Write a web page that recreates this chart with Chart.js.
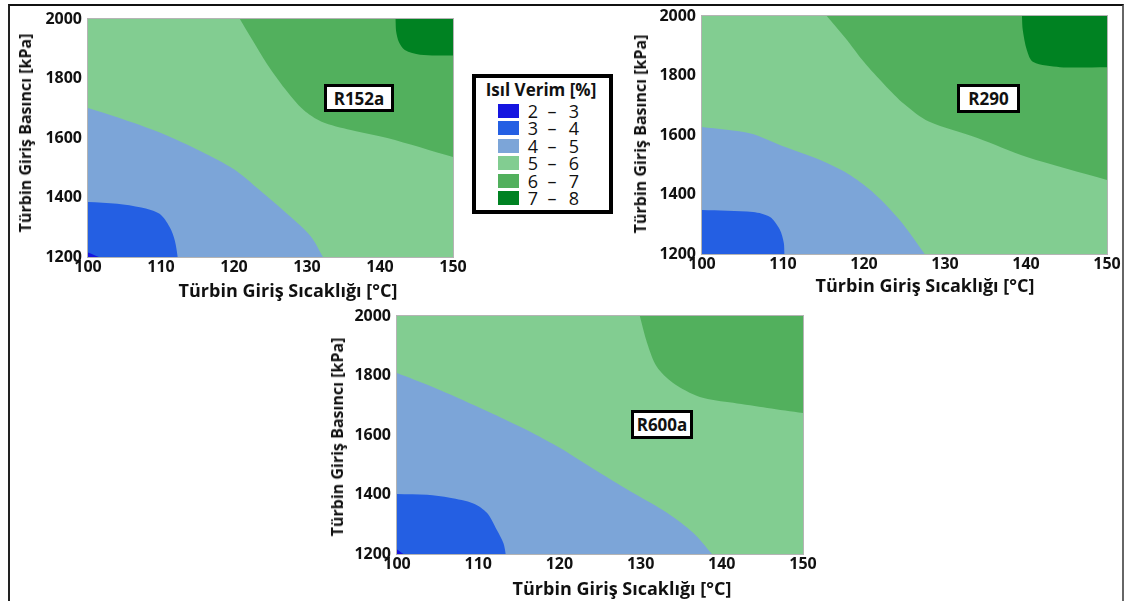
<!DOCTYPE html>
<html>
<head>
<meta charset="utf-8">
<script src="https://cdn.jsdelivr.net/npm/chart.js@4.4.1/dist/chart.umd.min.js"></script>
<style>
  body { margin: 0; background: #fff; font-family: "Open Sans", sans-serif; color: #111; }
  #page { position: relative; width: 1126px; height: 601px; overflow: hidden; }
  #frame { position: absolute; left: 8px; top: 4px; width: 1112px; height: 640px;
           border-left: 2px solid #222; border-top: 2px solid #111; border-right: 2px solid #666; }
  canvas { position: absolute; }
  .xt { position: absolute; font-weight: 700; font-size: 18px; white-space: nowrap; transform: translate(-50%, -50%); }
  .yt { position: absolute; font-weight: 700; font-size: 16px; white-space: nowrap; transform: translate(-50%, -50%) rotate(-90deg); }
  .tag { position: absolute; box-sizing: border-box; border: 3px solid #000; background: #fff;
         font-weight: 700; font-size: 17px; display: flex; align-items: center; justify-content: center; }
  #legend { position: absolute; left: 472px; top: 74px; width: 141px; height: 140px; box-sizing: border-box;
            border: 4px solid #000; background: #fff; }
  .lt { position: absolute; font-weight: 700; font-size: 17px; white-space: nowrap; transform: translate(-50%, -50%); }
  .sw { position: absolute; width: 21px; height: 14px; }
  .ln { position: absolute; font-size: 18px; transform: translate(-50%, -50%); }
</style>
</head>
<body>
<div id="page">
  <div id="frame"></div>
  <canvas id="c1" width="470" height="305" style="left:0px;top:0px"></canvas>
  <canvas id="c2" width="510" height="300" style="left:614px;top:0px"></canvas>
  <canvas id="c3" width="512" height="300" style="left:309px;top:300px"></canvas>

  <div class="xt" style="left:288px;top:290px">Türbin Giriş Sıcaklığı [°C]</div>
  <div class="yt" style="left:25px;top:133px">Türbin Giriş Basıncı [kPa]</div>
  <div class="xt" style="left:925px;top:285px">Türbin Giriş Sıcaklığı [°C]</div>
  <div class="yt" style="left:640px;top:134px">Türbin Giriş Basıncı [kPa]</div>
  <div class="xt" style="left:622px;top:588px">Türbin Giriş Sıcaklığı [°C]</div>
  <div class="yt" style="left:337px;top:437px">Türbin Giriş Basıncı [kPa]</div>

  <div class="tag" style="left:324px;top:84px;width:70px;height:28px">R152a</div>
  <div class="tag" style="left:957px;top:84px;width:63px;height:29px">R290</div>
  <div class="tag" style="left:631px;top:410px;width:62px;height:29px">R600a</div>

  <div id="legend"></div>
  <div class="lt" style="left:541px;top:89px">Isıl Verim [%]</div>
  <div id="legendRows"></div>
</div>

<script>
// axes
const tempTicks = [100, 110, 120, 130, 140, 150];
const pressTicks = [1200, 1400, 1600, 1800, 2000];

// legend bands
const bandLow = [2, 3, 4, 5, 6, 7];
const bandHigh = [3, 4, 5, 6, 7, 8];
const bandColors = ["#1515e0", "#245fe3", "#7ca5d8", "#82cd91", "#52b05d", "#008222"];

// contour boundaries [temperature, pressure]
// R152a
const r152a_23 = [[100, 1215], [101.5, 1200]];
const r152a_34 = [[100, 1385], [104, 1379], [107.3, 1366], [109.8, 1345], [111.2, 1300], [111.9, 1255], [112.3, 1200]];
const r152a_45 = [[100, 1701], [104, 1670], [110, 1617], [115.5, 1555], [120, 1495], [123.5, 1425],
                  [127.5, 1340], [130.5, 1270], [132.2, 1200]];
const r152a_67 = [[120.8, 2000], [122.5, 1930], [124.5, 1850], [127, 1765], [129.5, 1695], [132, 1655],
                  [136, 1627], [141, 1600], [150, 1536]];
const r152a_78 = [[142.1, 2000], [142.2, 1960], [142.6, 1922], [143.4, 1896], [145.5, 1880], [150, 1877]];

// R290
const r290_34 = [[100, 1348], [106.3, 1341], [108.4, 1324], [109.6, 1282], [110.1, 1237], [110.2, 1200]];
const r290_45 = [[100, 1627], [106, 1605], [110, 1562], [114.6, 1516], [118, 1470], [121, 1410],
                 [124.4, 1314], [127.5, 1200]];
const r290_67 = [[115.4, 2000], [117.7, 1926], [120, 1845], [122.5, 1770], [125, 1703], [128, 1645],
                 [134, 1590], [140.1, 1526], [150, 1449]];
const r290_78 = [[139.5, 2000], [139.6, 1953], [140.1, 1886], [140.9, 1845], [144.2, 1828], [150, 1828]];

// R600a
const r600a_23 = [[100, 1215], [100.8, 1200]];
const r600a_34 = [[100, 1402], [103.7, 1399], [106.5, 1389], [109.4, 1370], [111.1, 1338], [112.3, 1281],
                  [113.1, 1237], [113.4, 1200]];
const r600a_45 = [[100, 1808], [104.4, 1761], [108.6, 1711], [112.7, 1660], [116.7, 1607], [120.1, 1556],
                  [125.0, 1472], [129.1, 1405], [133.3, 1338], [136.5, 1271], [138.8, 1200]];
const r600a_67 = [[129.9, 2000], [130.8, 1909], [132.0, 1829], [134.0, 1775], [137.3, 1728], [141.4, 1708],
                  [145.6, 1691], [150, 1674]];

// the 5-6 band covers the whole plot underneath
const fullTop = [[100, 2000], [150, 2000]];

/*
 LEGEND
*/
const rows = document.getElementById("legendRows");
bandLow.forEach((lo, i) => {
  const cy = 110.7 + i * 17.5;
  rows.insertAdjacentHTML("beforeend",
    `<div class="sw" style="left:498px;top:${cy - 7}px;background:${bandColors[i]}"></div>` +
    `<div class="ln" style="left:533px;top:${cy}px">${lo}</div>` +
    `<div class="ln" style="left:552px;top:${cy}px">–</div>` +
    `<div class="ln" style="left:574px;top:${cy}px">${bandHigh[i]}</div>`);
});

/*
 PLOT FRAME
*/
const frame = {
  id: "frame",
  afterDatasetsDraw(chart) {
    const { ctx, chartArea: a } = chart;
    ctx.save();
    ctx.strokeStyle = "#b4b4b4";
    ctx.lineWidth = 1;
    ctx.strokeRect(a.left - 0.5, a.top - 0.5, a.right - a.left + 1, a.bottom - a.top + 1);
    ctx.restore();
  }
};

const tickFont = { family: "Open Sans", size: 16, weight: 700 };

function layer(pts, fill, color) {
  return {
    data: pts.map(p => ({ x: p[0], y: p[1] })),
    fill: fill,
    backgroundColor: color,
    borderWidth: 0,
    pointRadius: 0,
    tension: 0.3
  };
}

function contourChart(id, datasets, pad, xHeight) {
  new Chart(document.getElementById(id), {
    type: "line",
    data: { datasets },
    options: {
      responsive: false,
      animation: false,
      events: [],
      layout: { padding: pad },
      plugins: { legend: { display: false }, tooltip: { enabled: false } },
      scales: {
        x: {
          type: "linear", min: 100, max: 150,
          grid: { display: false, drawTicks: false },
          border: { display: false },
          ticks: { font: tickFont, color: "#111", padding: 1, maxRotation: 0, callback: v => String(v) },
          afterBuildTicks: s => { s.ticks = tempTicks.map(v => ({ value: v })); },
          afterFit: s => { s.height = xHeight; }
        },
        y: {
          type: "linear", min: 1200, max: 2000,
          grid: { display: false, drawTicks: false },
          border: { display: false },
          ticks: { font: tickFont, color: "#111", padding: 6, callback: v => String(v) },
          afterBuildTicks: s => { s.ticks = pressTicks.map(v => ({ value: v })); },
          afterFit: s => { s.width = 88; }
        }
      }
    },
    plugins: [frame]
  });
}

/*
 CHARTS
*/
contourChart("c1", [
  layer(r152a_23, "start", bandColors[0]),
  layer(r152a_34, "start", bandColors[1]),
  layer(r152a_45, "start", bandColors[2]),
  layer(r152a_78, "end", bandColors[5]),
  layer(r152a_67, "end", bandColors[4]),
  layer(fullTop, "start", bandColors[3])
], { top: 19, right: 17, left: 0, bottom: 0 }, 48);

contourChart("c2", [
  layer(r290_34, "start", bandColors[1]),
  layer(r290_45, "start", bandColors[2]),
  layer(r290_78, "end", bandColors[5]),
  layer(r290_67, "end", bandColors[4]),
  layer(fullTop, "start", bandColors[3])
], { top: 16, right: 17, left: 0, bottom: 0 }, 46);

contourChart("c3", [
  layer(r600a_23, "start", bandColors[0]),
  layer(r600a_34, "start", bandColors[1]),
  layer(r600a_45, "start", bandColors[2]),
  layer(r600a_67, "end", bandColors[4]),
  layer(fullTop, "start", bandColors[3])
], { top: 16, right: 18, left: 0, bottom: 0 }, 46);
</script>
</body>
</html>
